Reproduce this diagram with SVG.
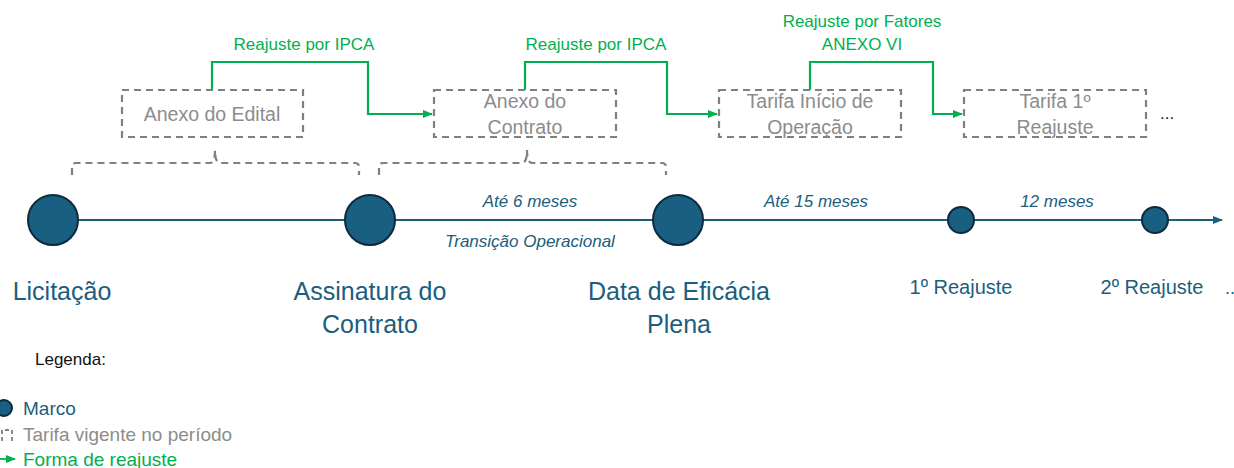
<svg xmlns="http://www.w3.org/2000/svg" width="1234" height="468" viewBox="0 0 1234 468">
<defs>
<style>
text{font-family:"Liberation Sans",Arial,sans-serif}
.box{fill:none;stroke:#808080;stroke-width:2.2;stroke-dasharray:7,5}
.brace{fill:none;stroke:#808080;stroke-width:2.2;stroke-dasharray:7,5}
.boxt{fill:#8c8c8c;font-size:19.5px;text-anchor:middle}
.grn{fill:none;stroke:#00B050;stroke-width:2.2}
.grnt{fill:#00B050;font-size:17px;text-anchor:middle}
.mile{fill:#185F82;stroke:#0D2B3E;stroke-width:2}
.ml{fill:#1B5E7E;font-size:25px;text-anchor:middle}
.ms{fill:#1B5E7E;font-size:20px;text-anchor:middle}
.it{fill:#1B5E7E;font-size:17px;font-style:italic;text-anchor:middle}
.lg{font-size:19px}
</style>
<marker id="ga" markerWidth="10" markerHeight="10" refX="9" refY="5" orient="auto" markerUnits="userSpaceOnUse"><path d="M0,1 L10,5 L0,9 Z" fill="#00B050"/></marker>
<marker id="ba" markerWidth="10" markerHeight="10" refX="9" refY="5" orient="auto" markerUnits="userSpaceOnUse"><path d="M0,1 L10,5 L0,9 Z" fill="#1B5E7E"/></marker>
</defs>
<rect width="1234" height="468" fill="#fff"/>
<g id="connectors">
<line x1="78" y1="220" x2="1222" y2="220" stroke="#1B5E7E" stroke-width="2" marker-end="url(#ba)"/>
<path class="grn" d="M212,90 V62 H368 V114 H432" marker-end="url(#ga)"/>
<path class="grn" d="M525,90 V62 H667 V114 H717" marker-end="url(#ga)"/>
<path class="grn" d="M810,90 V62 H933 V114 H962" marker-end="url(#ga)"/>
<path class="brace" d="M72,175 V166 Q72,163 76,163 H210 Q215,163 215,150 Q215,163 220,163 H355 Q359,163 359,167 V175"/>
<path class="brace" d="M379,175 V166 Q379,163 383,163 H522 Q527,163 527,150 Q527,163 532,163 H662 Q666,163 666,167 V175"/>
</g>
<g id="label-ipca1"><text class="grnt" x="304" y="50">Reajuste por IPCA</text></g>
<g id="label-ipca2"><text class="grnt" x="596" y="50">Reajuste por IPCA</text></g>
<g id="label-fatores"><text class="grnt" x="862" y="27">Reajuste por Fatores</text><text class="grnt" x="862" y="50">ANEXO VI</text></g>
<g id="box-edital"><rect class="box" x="122" y="90" width="181" height="47"/><text class="boxt" x="212" y="121">Anexo do Edital</text></g>
<g id="box-contrato"><rect class="box" x="434" y="90" width="182" height="47"/><text class="boxt" x="525" y="108">Anexo do</text><text class="boxt" x="525" y="134">Contrato</text></g>
<g id="box-inicio"><rect class="box" x="719" y="90" width="182" height="47"/><text class="boxt" x="810" y="108">Tarifa Início de</text><text class="boxt" x="810" y="134">Operação</text></g>
<g id="box-reajuste1"><rect class="box" x="964" y="90" width="182" height="47"/><text class="boxt" x="1055" y="108">Tarifa 1º</text><text class="boxt" x="1055" y="134">Reajuste</text></g>
<g id="ellipsis-top"><text x="1160" y="119" font-size="17" fill="#222">...</text></g>
<g id="m-licitacao"><circle class="mile" cx="53" cy="220" r="25"/><text class="ml" x="62" y="300">Licitação</text></g>
<g id="m-assinatura"><circle class="mile" cx="370" cy="220" r="25"/><text class="ml" x="370" y="300">Assinatura do</text><text class="ml" x="370" y="333">Contrato</text></g>
<g id="m-eficacia"><circle class="mile" cx="678" cy="220" r="25"/><text class="ml" x="679" y="300">Data de Eficácia</text><text class="ml" x="679" y="333">Plena</text></g>
<g id="m-r1"><circle class="mile" cx="961" cy="220" r="13"/><text class="ms" x="961" y="294">1º Reajuste</text></g>
<g id="m-r2"><circle class="mile" cx="1155" cy="220" r="13"/><text class="ms" x="1152" y="294">2º Reajuste</text></g>
<g id="ellipsis-bottom"><text x="1225" y="294" font-size="18" fill="#1B5E7E">..</text></g>
<g id="periods">
<text class="it" x="530" y="207">Até 6 meses</text>
<text class="it" x="530" y="247">Transição Operacional</text>
<text class="it" x="816" y="207">Até 15 meses</text>
<text class="it" x="1057" y="207">12 meses</text>
</g>
<g id="legend">
<text x="35" y="365" font-size="17" fill="#111">Legenda:</text>
<circle class="mile" cx="4" cy="408" r="8"/>
<text class="lg" x="23" y="415" fill="#1B5E7E">Marco</text>
<path d="M2,441 V430 H12 V441" fill="none" stroke="#808080" stroke-width="1.8" stroke-dasharray="4,3"/>
<text class="lg" x="23" y="441" fill="#8c8c8c">Tarifa vigente no período</text>
<line x1="0" y1="459" x2="15" y2="459" stroke="#00B050" stroke-width="1.8" marker-end="url(#ga)"/>
<text class="lg" x="23" y="466" fill="#00B050">Forma de reajuste</text>
</g>
</svg>
